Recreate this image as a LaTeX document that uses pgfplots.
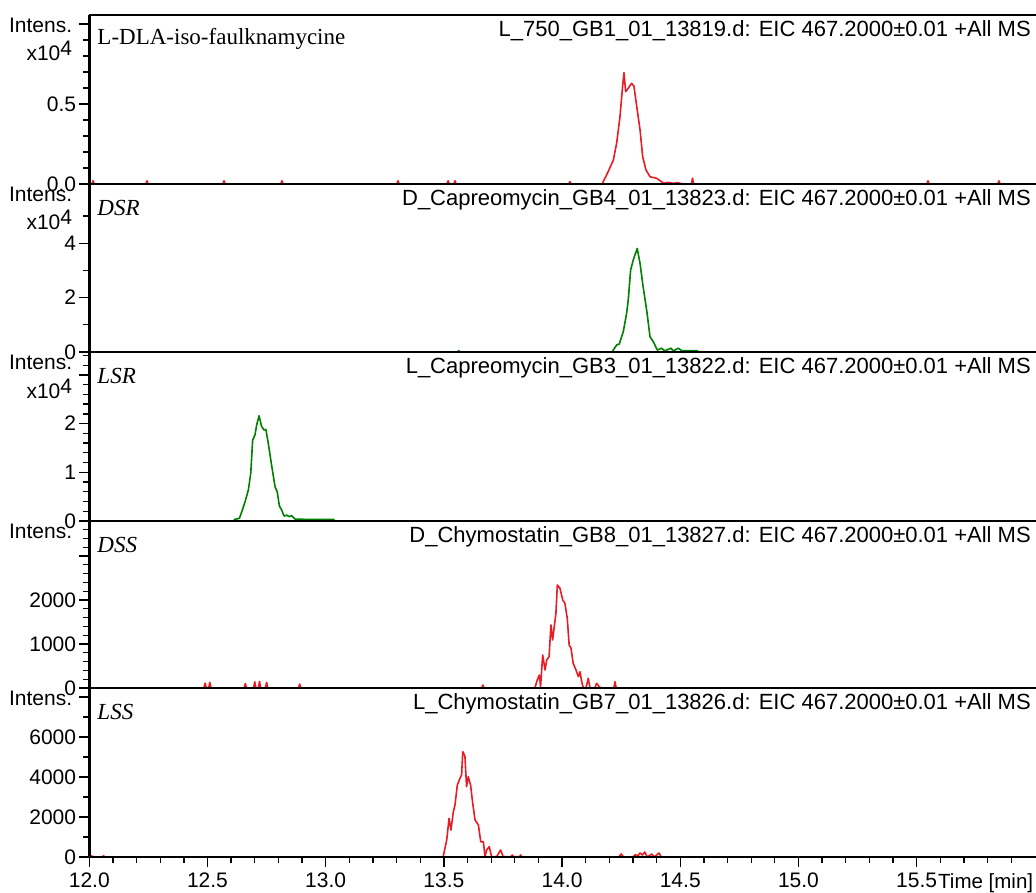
\documentclass[border=0pt]{standalone}
\usepackage{pgfplots}
\pgfplotsset{compat=1.18}
\usepackage{fontspec}
\setmainfont{Liberation Sans}
\newfontfamily\seriffont{Liberation Serif}
\definecolor{cred}{RGB}{232,28,36}
\definecolor{cgreen}{RGB}{0,128,0}
\newcommand{\tf}{\fontsize{21}{21}\selectfont}
\pgfplotsset{
  panel/.style={
    scale only axis, width=946.7pt, height=#1,
    xmin=12, xmax=16.005, ymin=0,
    axis x line*=bottom, axis y line*=left,
    axis line style={line width=2.6pt, black},
    axis on top, clip mode=individual,
    xtick=\empty,
    tick align=outside,
    major tick length=10pt, minor tick length=6pt,
    tick style={black, line width=1.3pt},
    yticklabel style={font=\tf, inner sep=3pt},
    every axis plot/.append style={line width=1.6pt, line join=round},
  },
}
\newcommand{\paneltext}[3]{%
  \node[anchor=east, font=\tf, inner sep=0pt] at (rel axis cs:0,1) [xshift=-17pt, yshift=-10pt] {Intens.};
  \node[anchor=base east, font=\tf, inner sep=0pt] at (rel axis cs:0,1) [xshift=-17pt, yshift=-46pt] {#1};
  \node[anchor=west, inner sep=0pt] at (rel axis cs:0,1) [xshift=8pt, yshift=-24pt] {\fontsize{23}{23}\selectfont\seriffont #2};
  \node[anchor=east, inner sep=0pt, font=\fontsize{22}{22}\selectfont] at (rel axis cs:1,1) [xshift=-5pt, yshift=-16pt] {#3};
}
\newcommand{\xten}{x10\raisebox{5pt}{4}}
\begin{document}
\begin{tikzpicture}
\useasboundingbox (0,0) rectangle (1036pt,-893pt);

% Panel 1
\begin{axis}[panel=169pt, at={(89.3pt,-184pt)}, anchor=south west,
  ymax=1.056, ytick={0,0.5,1.0}, yticklabels={0.0,0.5,},
  minor ytick={0.1,0.2,0.3,0.4,0.6,0.7,0.8,0.9}]
\addplot[cred] coordinates {
(12,0) (12.011,0) (12.016,0.02) (12.021,0) (12.239,0) (12.244,0.02) (12.249,0)
(12.565,0) (12.570,0.02) (12.575,0) (12.81,0) (12.815,0.02) (12.82,0)
(13.301,0) (13.306,0.02) (13.311,0) (13.513,0) (13.518,0.02) (13.523,0)
(13.542,0) (13.547,0.02) (13.552,0) (14.028,0) (14.033,0.015) (14.038,0)
(14.17,0) (14.174,0.014) (14.195,0.077) (14.217,0.15) (14.231,0.256) (14.245,0.42)
(14.256,0.608) (14.262,0.696) (14.269,0.577) (14.280,0.598) (14.294,0.629)
(14.304,0.6125) (14.316,0.483) (14.330,0.3375) (14.341,0.171) (14.355,0.0875)
(14.372,0.046) (14.386,0.04) (14.400,0.036) (14.421,0.014) (14.43,0.005)
(14.45,0.01) (14.47,0.004) (14.49,0.008) (14.51,0) (14.547,0) (14.552,0.036)
(14.557,0) (15.543,0) (15.548,0.02) (15.553,0) (15.843,0) (15.848,0.02)
(15.853,0) (16.005,0)
};
\paneltext{\xten}{L-DLA-iso-faulknamycine}{L\_750\_GB1\_01\_13819.d: EIC 467.2000±0.01 +All MS}
\draw[line width=2.6pt] (rel axis cs:0,1) -- (rel axis cs:1,1);
\end{axis}

% Panel 2
\begin{axis}[panel=168pt, at={(89.3pt,-352pt)}, anchor=south west,
  ymax=6.18, ytick={0,2,4}, yticklabels={0,2,4},
  minor ytick={1,3,5}]
\addplot[cgreen] coordinates {
(12,0) (13.558,0) (13.563,0.05) (13.568,0) (14.21,0) (14.214,0.037) (14.231,0.257)
(14.242,0.294) (14.259,0.746) (14.273,1.42) (14.280,1.91) (14.290,3.01)
(14.301,3.38) (14.318,3.81) (14.330,3.25) (14.343,2.39) (14.358,1.54)
(14.372,0.56) (14.386,0.38) (14.403,0.07) (14.421,0.14) (14.432,0.05)
(14.442,0.07) (14.461,0.14) (14.469,0.05) (14.477,0.07) (14.492,0.14)
(14.506,0.05) (14.569,0.05) (14.58,0) (16.005,0)
};
\paneltext{\xten}{\itshape DSR}{D\_Capreomycin\_GB4\_01\_13823.d: EIC 467.2000±0.01 +All MS}
\end{axis}

% Panel 3
\begin{axis}[panel=169pt, at={(89.3pt,-521pt)}, anchor=south west,
  ymax=3.47, ytick={0,1,2,3}, yticklabels={0,1,2,},
  minor ytick={0.2,0.4,0.6,0.8,1.2,1.4,1.6,1.8,2.2,2.4,2.6,2.8,3.2,3.4}]
\addplot[cgreen] coordinates {
(12,0) (12.61,0) (12.616,0.035) (12.635,0.055) (12.645,0.19) (12.659,0.396)
(12.673,0.64) (12.683,0.98) (12.691,1.66) (12.701,1.77) (12.708,1.97)
(12.718,2.16) (12.729,1.94) (12.739,1.87) (12.747,1.88) (12.757,1.60)
(12.772,1.12) (12.786,0.70) (12.795,0.60) (12.804,0.31) (12.814,0.226)
(12.824,0.10) (12.835,0.12) (12.846,0.09) (12.856,0.11) (12.870,0.04)
(12.905,0.035) (12.962,0.03) (13.032,0.035) (13.04,0) (16.005,0)
};
\paneltext{\xten}{\itshape LSR}{L\_Capreomycin\_GB3\_01\_13822.d: EIC 467.2000±0.01 +All MS}
\end{axis}

% Panel 4
\begin{axis}[panel=167pt, at={(89.3pt,-688pt)}, anchor=south west,
  ymax=3795, ytick={0,1000,2000,3000}, yticklabels={0,1000,2000,},
  minor ytick={200,400,600,800,1200,1400,1600,1800,2200,2400,2600,2800,3200,3400,3600}]
\addplot[cred] coordinates {
(12,0) (12.485,0) (12.49,110) (12.495,0) (12.505,0) (12.51,130) (12.515,0)
(12.655,0) (12.66,100) (12.665,0) (12.695,0) (12.70,140) (12.705,0)
(12.715,0) (12.72,150) (12.725,0) (12.745,0) (12.75,130) (12.755,0)
(12.885,0) (12.89,90) (12.895,0) (13.66,0) (13.665,68) (13.67,0)
(13.885,0) (13.895,182) (13.904,295) (13.909,30) (13.918,750) (13.928,409)
(13.935,636) (13.945,711) (13.953,1432) (13.960,1091) (13.967,1393)
(13.974,1698) (13.980,2341) (13.991,2266) (14.003,2000) (14.012,1925)
(14.022,1584) (14.030,977) (14.038,902) (14.047,561) (14.059,409)
(14.069,257) (14.076,370) (14.083,143) (14.090,0) (14.101,0) (14.111,220)
(14.118,0) (14.139,0) (14.146,107) (14.157,30) (14.165,0) (14.219,0)
(14.224,143) (14.229,0) (16.005,0)
};
\paneltext{}{\itshape DSS}{D\_Chymostatin\_GB8\_01\_13827.d: EIC 467.2000±0.01 +All MS}
\end{axis}

% Panel 5
\begin{axis}[panel=169pt, at={(89.3pt,-857pt)}, anchor=south west,
  ymax=8450, ytick={0,2000,4000,6000,8000}, yticklabels={0,2000,4000,6000,},
  minor ytick={1000,3000,5000,7000},
  xtick={12,12.5,13,13.5,14,14.5,15,15.5},
  xticklabels={12.0,12.5,13.0,13.5,14.0,14.5,15.0,15.5},
  minor xtick={12.1,12.2,12.3,12.4,12.6,12.7,12.8,12.9,13.1,13.2,13.3,13.4,13.6,13.7,13.8,13.9,14.1,14.2,14.3,14.4,14.6,14.7,14.8,14.9,15.1,15.2,15.3,15.4,15.6,15.7,15.8,15.9},
  xticklabel style={font=\tf, inner sep=3pt, yshift=-3pt}]
\addplot[cred] coordinates {
(12,0) (12.005,0) (12.01,60) (12.015,0) (12.055,0) (12.06,60) (12.065,0)
(13.49,0) (13.497,15) (13.512,850) (13.522,1935) (13.530,1350) (13.540,2265)
(13.547,2600) (13.557,3600) (13.568,3935) (13.575,4100) (13.580,5265)
(13.589,5050) (13.596,3515) (13.603,4015) (13.613,3600) (13.622,2685)
(13.632,1850) (13.646,1600) (13.656,765) (13.667,765) (13.674,15)
(13.681,350) (13.692,515) (13.702,15) (13.723,15) (13.740,350) (13.751,15)
(13.785,15) (13.789,100) (13.795,15) (13.82,15) (13.825,100) (13.83,0)
(14.24,0) (14.25,150) (14.26,0) (14.3,0) (14.31,120) (14.32,50) (14.33,200)
(14.34,100) (14.35,250) (14.36,0) (14.38,150) (14.39,0) (14.41,200) (14.42,0)
(16.005,0)
};
\paneltext{}{\itshape LSS}{L\_Chymostatin\_GB7\_01\_13826.d: EIC 467.2000±0.01 +All MS}
\end{axis}
\node[anchor=west, font=\fontsize{20.5}{20.5}\selectfont, inner sep=0pt] at (938pt,-883pt) {Time [min]};
\end{tikzpicture}
\end{document}
